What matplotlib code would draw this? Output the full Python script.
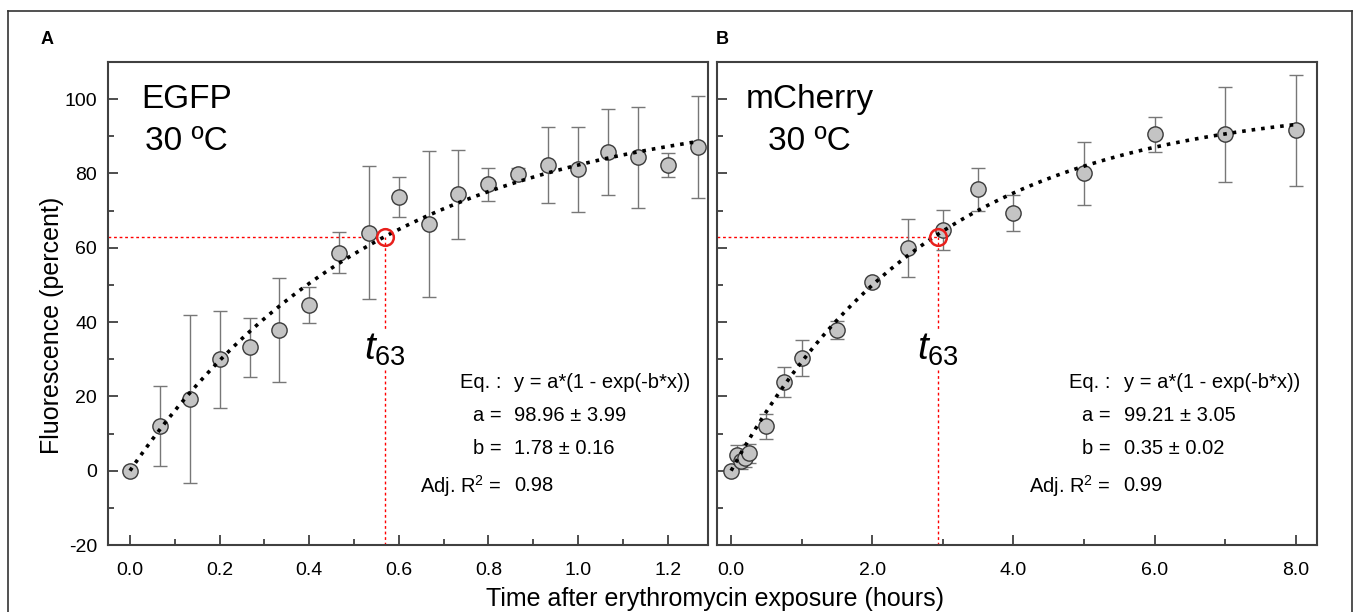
import numpy as np
import matplotlib
matplotlib.use("Agg")
import matplotlib.pyplot as plt
from matplotlib.lines import Line2D
from matplotlib.ticker import MultipleLocator, FormatStrFormatter

plt.rcParams['font.family'] = ['Liberation Sans', 'DejaVu Sans']
plt.rcParams['mathtext.fontset'] = 'custom'
plt.rcParams['mathtext.rm'] = 'Liberation Sans'
plt.rcParams['mathtext.it'] = 'Liberation Sans:italic'
plt.rcParams['axes.unicode_minus'] = False

# ---- panel A: EGFP ----
egfp_t = [0, 0.067, 0.133, 0.2, 0.267, 0.333, 0.4, 0.467, 0.533, 0.6,
          0.667, 0.733, 0.8, 0.867, 0.933, 1.0, 1.067, 1.133, 1.2, 1.267]
egfp_y = [0, 12.1, 19.3, 30.0, 33.2, 37.9, 44.6, 58.7, 64.1, 73.6,
          66.4, 74.4, 77.1, 79.9, 82.3, 81.1, 85.8, 84.3, 82.3, 87.2]
egfp_err = [0.5, 10.8, 22.5, 13.0, 8.0, 14.0, 4.8, 5.5, 17.8, 5.4,
            19.6, 12.0, 4.5, 1.5, 10.2, 11.5, 11.5, 13.7, 3.3, 13.7]
egfp_a, egfp_b = 98.96, 1.78
egfp_t63 = 0.57

# ---- panel B: mCherry ----
mch_t = [0, 0.083, 0.133, 0.2, 0.25, 0.5, 0.75, 1.0, 1.5, 2.0,
         2.5, 3.0, 3.5, 4.0, 5.0, 6.0, 7.0, 8.0]
mch_y = [0, 4.3, 2.5, 3.4, 4.7, 11.9, 23.8, 30.3, 37.9, 50.7,
         59.9, 64.8, 75.7, 69.3, 80.0, 90.5, 90.5, 91.6]
mch_err = [0.5, 2.5, 2.0, 2.5, 2.5, 3.4, 4.0, 4.9, 2.4, 1.0,
           7.8, 5.5, 5.7, 4.9, 8.6, 4.7, 12.8, 14.9]
mch_a, mch_b = 99.21, 0.35
mch_t63 = 2.93

fit_text_A = ["y = a*(1 - exp(-b*x))", "98.96 ± 3.99", "1.78 ± 0.16", "0.98"]
fit_text_B = ["y = a*(1 - exp(-b*x))", "99.21 ± 3.05", "0.35 ± 0.02", "0.99"]
row_names = ["Eq. :", "a =", "b =", "Adj. R$^{2}$ ="]

W, H = 1357, 612
fig = plt.figure(figsize=(W / 100, H / 100), dpi=100)

def px(x0, y0, x1, y1):
    return [x0 / W, 1 - y1 / H, (x1 - x0) / W, (y1 - y0) / H]

axA = fig.add_axes(px(108, 62, 708, 545))
axB = fig.add_axes(px(717, 62, 1317, 545))

spine_c = '#404040'


def draw_panel(ax, t, y, err, a, b, t63, xlim, xmaj, xmin_, fit_txt, title,
               title_x, txt_split, show_ylabels):
    ax.set_xlim(*xlim)
    ax.set_ylim(-20, 110)
    ax.errorbar(t, y, yerr=err, fmt='none', ecolor='#777777', elinewidth=1,
                capsize=5, capthick=1, zorder=2)
    ax.plot(t, y, 'o', ms=11, mfc='#c4c4c4', mec='#3a3a3a', mew=1, zorder=3)
    xs = np.linspace(0, max(t), 300)
    ax.plot(xs, a * (1 - np.exp(-b * xs)), color='black', lw=2.6, ls=':', zorder=4)
    # t63 guide lines
    ax.plot([xlim[0], t63], [63, 63], color='red', lw=1, ls=(0, (2, 2)), zorder=1)
    ax.plot([t63, t63], [-20, 63], color='red', lw=1, ls=(0, (2, 2)), zorder=1)
    ax.plot([t63], [63], 'o', ms=12, mfc='none', mec='#e8201c', mew=1.8, zorder=5)
    ax.text(t63, 32.5, r'$\mathit{t}_{63}$', fontsize=28, ha='center', va='center',
            bbox=dict(facecolor='white', edgecolor='none', pad=0.5), zorder=2)

    line1, line2 = title.split("\n")
    ax.text(title_x, 97.6, line1, fontsize=24, ha='center', va='baseline')
    ax.text(title_x, 86.3, line2, fontsize=24, ha='center', va='baseline')

    rows_y = [23.7, 14.8, 5.9, -4.0]
    for name, val, ry in zip(row_names, fit_txt, rows_y):
        ax.text(txt_split[0], ry, name, fontsize=14.5, ha='right', va='center')
        ax.text(txt_split[1], ry, val, fontsize=14.5, ha='left', va='center')

    for s in ax.spines.values():
        s.set_color(spine_c)
        s.set_linewidth(1.5)
    ax.xaxis.set_major_locator(MultipleLocator(xmaj))
    ax.xaxis.set_minor_locator(MultipleLocator(xmin_))
    ax.xaxis.set_major_formatter(FormatStrFormatter('%.1f'))
    ax.yaxis.set_major_locator(MultipleLocator(20))
    ax.yaxis.set_minor_locator(MultipleLocator(10))
    ax.tick_params(which='both', direction='in', color=spine_c, width=1.3,
                   top=False, right=False, labelsize=14)
    ax.tick_params(which='major', length=7)
    ax.tick_params(axis='x', which='major', pad=12)
    ax.tick_params(axis='y', which='major', pad=8)
    ax.tick_params(which='minor', length=4)
    if not show_ylabels:
        ax.tick_params(axis='y', labelleft=False)


draw_panel(axA, egfp_t, egfp_y, egfp_err, egfp_a, egfp_b, egfp_t63,
           (-0.049, 1.29), 0.2, 0.1, fit_text_A, "EGFP\n30 ºC", 0.127,
           (0.83, 0.857), True)
draw_panel(axB, mch_t, mch_y, mch_err, mch_a, mch_b, mch_t63,
           (-0.2, 8.3), 2.0, 1.0, fit_text_B, "mCherry\n30 ºC", 1.11,
           (5.38, 5.56), False)

fig.text(47 / W, 1 - 39 / H, 'A', fontsize=13, fontweight='bold', ha='center', va='center')
fig.text(722 / W, 1 - 39 / H, 'B', fontsize=13, fontweight='bold', ha='center', va='center')

fig.text(52 / W, 1 - 325 / H, 'Fluorescence (percent)', fontsize=18, rotation=90,
         ha='center', va='center')
fig.text(715 / W, 1 - 606 / H, 'Time after erythromycin exposure (hours)', fontsize=18,
         ha='center', va='baseline')

# outer frame
frame_kw = dict(color='#333333', lw=1.2, transform=fig.transFigure)
fig.add_artist(Line2D([8 / W, 8 / W], [0, 1 - 11 / H], **frame_kw))
fig.add_artist(Line2D([1352 / W, 1352 / W], [0, 1 - 11 / H], **frame_kw))
fig.add_artist(Line2D([8 / W, 1352 / W], [1 - 11 / H, 1 - 11 / H], **frame_kw))

fig.savefig('out.png', dpi=100)
